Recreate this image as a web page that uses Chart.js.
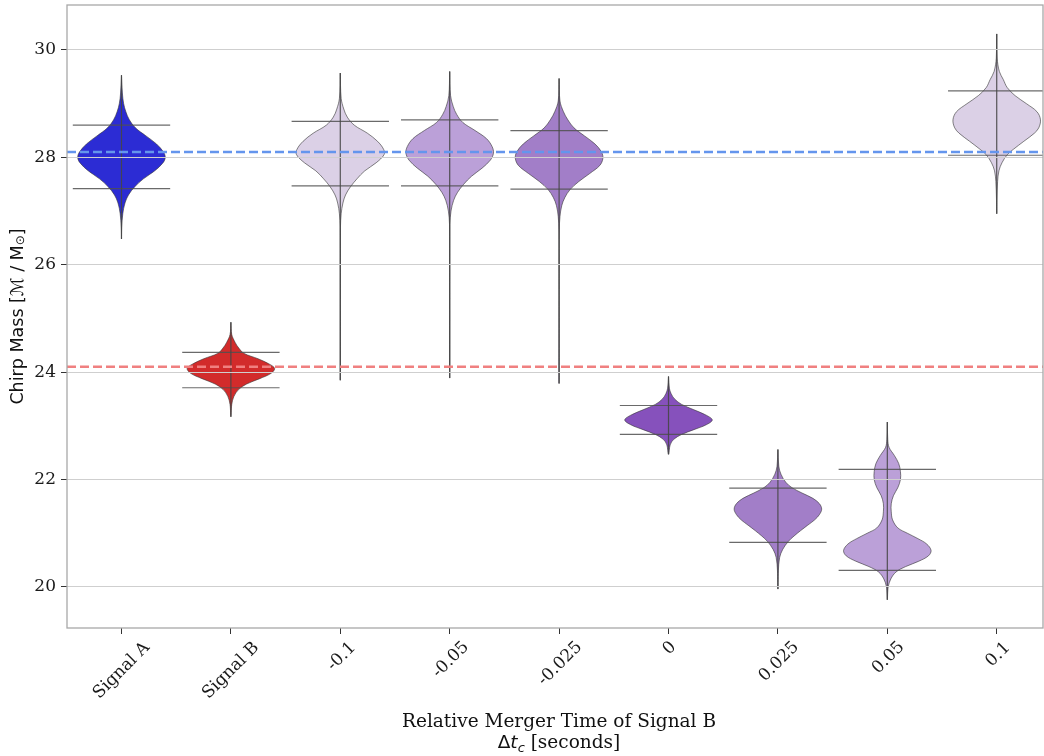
<!DOCTYPE html>
<html>
<head>
<meta charset="utf-8">
<script src="https://cdn.jsdelivr.net/npm/chart.js@4.4.0/dist/chart.umd.min.js"></script>
<style>
  html, body { margin: 0; padding: 0; background: #fff; }
  canvas { display: block; }
</style>
</head>
<body>
<canvas id="violins" width="1044" height="756"></canvas>
<script>
const categories = ['Signal A', 'Signal B', '-0.1', '-0.05', '-0.025', '0', '0.025', '0.05', '0.1'];
const yTicks = [20, 22, 24, 26, 28, 30];
const trueChirpA = 28.1;
const trueChirpB = 24.1;

// extent and quantile lines per violin
const extMin = [26.48, 23.17, 23.85, 23.89, 23.79, 22.47, 19.96, 19.76, 26.95];
const extMax = [29.53, 24.93, 29.57, 29.60, 29.47, 23.92, 22.56, 23.07, 30.30];
const qLow = [27.42, 23.71, 27.47, 27.47, 27.41, 22.84, 20.83, 20.31, 28.04];
const qHigh = [28.60, 24.37, 28.67, 28.70, 28.50, 23.38, 21.84, 22.19, 29.24];

// density profiles, top to bottom: [chirp mass, relative width]
const profSignalA = [[29.53, 0], [29.2, 0.02], [29.0, 0.05], [28.85, 0.1], [28.7, 0.18], [28.55, 0.32], [28.4, 0.56],
  [28.25, 0.8], [28.1, 0.96], [28.0, 1.0], [27.9, 0.95], [27.75, 0.76], [27.6, 0.5], [27.45, 0.3], [27.3, 0.16],
  [27.15, 0.08], [26.95, 0.03], [26.7, 0.005], [26.48, 0]];
const profSignalB = [[24.93, 0], [24.7, 0.02], [24.55, 0.1], [24.45, 0.18], [24.35, 0.3], [24.25, 0.62], [24.15, 0.88],
  [24.07, 1.0], [23.98, 0.92], [23.88, 0.66], [23.78, 0.36], [23.68, 0.18], [23.55, 0.07], [23.4, 0.02], [23.17, 0]];
const profM100 = [[29.57, 0], [29.1, 0.02], [28.9, 0.08], [28.75, 0.16], [28.6, 0.32], [28.45, 0.62], [28.3, 0.85],
  [28.15, 0.99], [28.05, 1.0], [27.9, 0.82], [27.75, 0.56], [27.6, 0.38], [27.45, 0.23], [27.3, 0.12], [27.15, 0.06],
  [26.95, 0.02], [26.7, 0.004], [26.3, 0.001], [23.85, 0]];
const profM050 = [[29.60, 0], [29.15, 0.02], [28.95, 0.08], [28.8, 0.16], [28.65, 0.3], [28.5, 0.58], [28.35, 0.84],
  [28.2, 0.97], [28.08, 1.0], [27.95, 0.93], [27.8, 0.74], [27.65, 0.5], [27.5, 0.32], [27.35, 0.18], [27.2, 0.09],
  [27.0, 0.03], [26.75, 0.004], [26.3, 0.001], [23.89, 0]];
const profM025 = [[29.47, 0], [29.05, 0.02], [28.85, 0.1], [28.7, 0.2], [28.55, 0.34], [28.4, 0.58], [28.25, 0.82],
  [28.1, 0.97], [27.98, 1.0], [27.85, 0.93], [27.7, 0.7], [27.55, 0.45], [27.4, 0.25], [27.25, 0.13], [27.1, 0.06],
  [26.9, 0.02], [26.65, 0.004], [26.3, 0.001], [23.79, 0]];
const profZero = [[23.92, 0], [23.7, 0.02], [23.6, 0.06], [23.5, 0.14], [23.4, 0.3], [23.3, 0.58], [23.2, 0.86],
  [23.11, 1.0], [23.02, 0.86], [22.93, 0.58], [22.84, 0.3], [22.75, 0.12], [22.65, 0.04], [22.47, 0]];
const profP025 = [[22.56, 0], [22.25, 0.02], [22.1, 0.07], [21.95, 0.18], [21.85, 0.32], [21.75, 0.55], [21.65, 0.8],
  [21.55, 0.95], [21.45, 1.0], [21.35, 0.95], [21.25, 0.84], [21.15, 0.68], [21.05, 0.52], [20.95, 0.37],
  [20.85, 0.24], [20.7, 0.11], [20.55, 0.04], [20.3, 0.01], [19.96, 0]];
const profP050 = [[23.07, 0], [22.75, 0.01], [22.6, 0.04], [22.45, 0.16], [22.3, 0.26], [22.15, 0.3], [22.0, 0.3],
  [21.85, 0.24], [21.7, 0.14], [21.55, 0.09], [21.4, 0.09], [21.25, 0.12], [21.1, 0.24], [21.0, 0.46], [20.9, 0.7],
  [20.8, 0.9], [20.68, 1.0], [20.58, 0.94], [20.48, 0.72], [20.38, 0.42], [20.28, 0.2], [20.15, 0.08], [20.0, 0.02],
  [19.76, 0]];
const profP100 = [[30.30, 0], [29.85, 0.01], [29.6, 0.06], [29.45, 0.15], [29.3, 0.24], [29.15, 0.42], [29.0, 0.68],
  [28.85, 0.92], [28.7, 1.0], [28.55, 0.96], [28.45, 0.86], [28.3, 0.62], [28.15, 0.38], [28.05, 0.24], [27.9, 0.12],
  [27.75, 0.05], [27.55, 0.02], [27.2, 0.005], [26.95, 0]];
const profiles = [profSignalA, profSignalB, profM100, profM050, profM025, profZero, profP025, profP050, profP100];

// styles
const fillColors = ['#2c2cd4', '#d22b2b', '#dbd0e6', '#bba0d8', '#a27ec8', '#8651bc', '#a27ec8', '#bba0d8', '#dbd0e6'];
const halfWidth = 0.4;
const quantHalf = 0.445;
const xMin = -0.498, xMax = 8.423;
const serif = '"DejaVu Serif", serif';
const sans = '"DejaVu Sans", sans-serif';

const datasets = [];
profiles.forEach((prof, i) => {
    const right = prof.map(([y, d]) => ({ x: i + d * halfWidth, y }));
    const left = prof.slice(0, -1).reverse().map(([y, d]) => ({ x: i - d * halfWidth, y }));
    datasets.push({
        data: right.concat(left),
        showLine: true,
        fill: 'shape',
        backgroundColor: fillColors[i],
        borderColor: 'rgba(50, 50, 50, 0.75)',
        borderWidth: 0.8,
        pointRadius: 0,
        tension: 0.35,
        order: 3
    });
    datasets.push({
        data: [{ x: i, y: extMin[i] }, { x: i, y: extMax[i] }],
        showLine: true, borderColor: 'rgba(70, 70, 70, 0.9)', borderWidth: 1.2, pointRadius: 0, order: 2
    });
    [qLow[i], qHigh[i]].forEach(q => {
        datasets.push({
            data: [{ x: i - quantHalf, y: q }, { x: i + quantHalf, y: q }],
            showLine: true, borderColor: 'rgba(80, 80, 80, 0.85)', borderWidth: 1.2, pointRadius: 0, order: 2
        });
    });
});
[[trueChirpA, '#6495ed'], [trueChirpB, '#f08080']].forEach(([v, c]) => {
    datasets.push({
        data: [{ x: xMin, y: v }, { x: xMax, y: v }],
        showLine: true, borderColor: c, borderWidth: 2.5, borderDash: [9, 4], pointRadius: 0, order: 1
    });
});

const drawRich = (ctx, parts, cx, baseline) => {
    let total = 0;
    parts.forEach(p => { ctx.font = p.f; p.w = ctx.measureText(p.t).width; total += p.w; });
    let x = cx - total / 2;
    ctx.textAlign = 'left';
    parts.forEach(p => {
        ctx.font = p.f;
        ctx.fillText(p.t, x, baseline + (p.dy || 0));
        x += p.w;
    });
};

const frameAndTitles = {
    id: 'frameAndTitles',
    afterDraw(chart) {
        const { ctx, chartArea: a } = chart;
        const xs = chart.scales.x;
        ctx.save();
        ctx.strokeStyle = '#a8a8a8';
        ctx.lineWidth = 1.3;
        ctx.strokeRect(a.left, a.top, a.right - a.left, a.bottom - a.top);

        // x tick labels, rotated 45 degrees and centred on their ticks
        ctx.fillStyle = '#1a1a1a';
        ctx.font = '17px ' + serif;
        ctx.textAlign = 'center';
        ctx.textBaseline = 'alphabetic';
        const top = a.bottom + 6 + 5;
        xs.ticks.forEach(t => {
            const label = categories[t.value];
            const m = ctx.measureText(label);
            const h = m.actualBoundingBoxAscent + m.actualBoundingBoxDescent;
            const side = (m.width + h) / Math.SQRT2;
            ctx.save();
            ctx.translate(xs.getPixelForValue(t.value), top + side / 2);
            ctx.rotate(-Math.PI / 4);
            ctx.fillText(label, 0, (m.actualBoundingBoxAscent - m.actualBoundingBoxDescent) / 2);
            ctx.restore();
        });

        ctx.fillStyle = '#111';
        const cx = (a.left + a.right) / 2 + 4;
        drawRich(ctx, [{ t: 'Relative Merger Time of Signal B', f: '18.5px ' + serif }], cx, 727);
        drawRich(ctx, [
            { t: 'Δ', f: '18.5px ' + sans },
            { t: 't', f: 'italic 18.5px ' + sans },
            { t: 'c', f: 'italic 13px ' + sans, dy: 4 },
            { t: ' [seconds]', f: '18.5px ' + serif }
        ], cx, 748);

        ctx.translate(18, (a.top + a.bottom) / 2);
        ctx.rotate(-Math.PI / 2);
        ctx.textBaseline = 'middle';
        drawRich(ctx, [
            { t: 'Chirp Mass [', f: '17.5px ' + sans },
            { t: 'ℳ', f: '17.5px ' + sans },
            { t: ' / M', f: '17.5px ' + sans },
            { t: '⊙', f: '12px ' + sans, dy: 3 },
            { t: ']', f: '17.5px ' + sans }
        ], 0, 0);
        ctx.restore();
    }
};

new Chart(document.getElementById('violins'), {
    type: 'scatter',
    data: { datasets },
    plugins: [frameAndTitles],
    options: {
        responsive: false,
        animation: false,
        events: [],
        layout: { padding: { top: 5, right: 1, left: 0, bottom: 0 } },
        plugins: { legend: { display: false }, tooltip: { enabled: false } },
        scales: {
            x: {
                type: 'linear',
                min: xMin,
                max: xMax,
                afterBuildTicks: s => { s.ticks = categories.map((_, i) => ({ value: i })); },
                afterFit: s => { s.height = 128; s.paddingLeft = 0; s.paddingRight = 0; },
                border: { display: false },
                grid: { drawOnChartArea: false, drawTicks: true, tickLength: 6, tickColor: '#333', lineWidth: 1 },
                ticks: { display: false }
            },
            y: {
                min: 19.236,
                max: 30.838,
                afterBuildTicks: s => { s.ticks = yTicks.map(v => ({ value: v })); },
                afterFit: s => { s.width = 67; s.paddingTop = 0; s.paddingBottom = 0; },
                border: { display: false },
                grid: { color: '#cfcfcf', lineWidth: 1, z: 1, tickLength: 6, tickColor: '#333' },
                ticks: { padding: 5, color: '#1a1a1a', font: { family: serif, size: 17 } }
            }
        }
    }
});
</script>
</body>
</html>
